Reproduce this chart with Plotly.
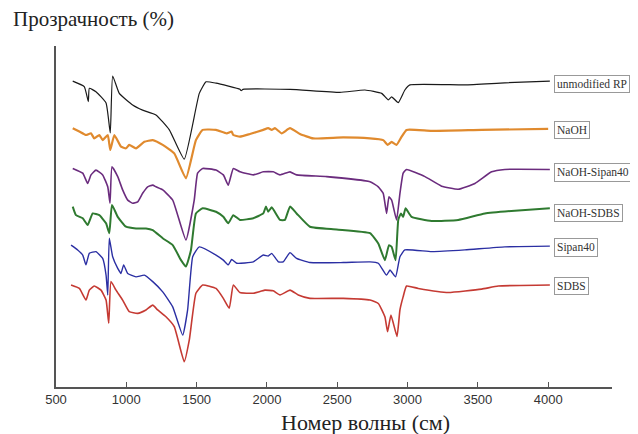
import plotly.graph_objects as go

# Wavenumber (cm^-1) and transmittance (arbitrary, offset)
rp_x = [619, 701, 730, 737, 784, 856, 886, 903, 950, 1045, 1116, 1211, 1306, 1412, 1519, 1567, 1638,
        1808, 1817, 1830, 2164, 2519, 2697, 2816, 2863, 2887, 2934, 2981, 3017, 3408, 3692, 4012]
rp_y = [89.7, 88.1, 83.7, 87.6, 86.6, 83.3, 74.5, 91.2, 86.1, 82.7, 81.2, 79.8, 75.4, 66.8, 86.1, 89.5, 89.1,
        87.3, 86.9, 87.3, 87.3, 86.4, 87.1, 86.1, 84.2, 85.1, 83.4, 87.1, 88.6, 88.6, 89.2, 89.7]

naoh_x = [619, 666, 713, 749, 772, 808, 832, 868, 886, 915, 962, 998, 1021, 1069, 1128, 1188, 1259, 1341,
          1424, 1495, 1543, 1638, 1714, 1749, 1761, 1808, 1879, 1974, 2009, 2034, 2057, 2105, 2164, 2235,
          2329, 2543, 2733, 2827, 2858, 2887, 2922, 2958, 2993, 3171, 3527, 4000]
naoh_y = [75.9, 74.9, 73.9, 74.4, 72.9, 73.9, 72.4, 73.9, 69.5, 73.9, 70.5, 70.0, 71.0, 70.0, 71.9, 72.4, 71.0, 68.5,
          61.2, 72.4, 75.4, 75.4, 74.4, 74.9, 73.9, 73.4, 74.2, 75.4, 75.9, 75.4, 75.9, 74.4, 75.9, 74.2,
          72.9, 73.2, 72.9, 72.4, 71.0, 71.9, 71.0, 73.4, 75.4, 75.1, 75.4, 75.7]

nsp_x = [619, 690, 725, 749, 784, 832, 868, 884, 898, 939, 974, 1010, 1045, 1081, 1116, 1152, 1188, 1211,
         1259, 1330, 1424, 1483, 1507, 1543, 1638, 1690, 1725, 1761, 1808, 1903, 1974, 2045, 2093, 2164,
         2211, 2425, 2733, 2792, 2827, 2851, 2868, 2887, 2922, 2946, 2969, 2993, 3124, 3242, 3360, 3479,
         3598, 3692, 4012]
nsp_y = [64.1, 62.7, 59.7, 62.2, 63.6, 62.2, 58.7, 53.9, 64.6, 61.7, 57.8, 54.8, 53.9, 54.3, 56.8, 58.7, 59.2, 58.7,
         57.8, 54.8, 43.1, 54.8, 62.7, 64.1, 63.6, 62.2, 59.2, 64.1, 63.1, 62.2, 63.1, 63.1, 62.2, 63.1,
         62.2, 61.7, 60.2, 58.7, 56.8, 50.9, 55.8, 54.8, 49.0, 56.8, 62.7, 63.8, 61.7, 58.9, 58.0, 59.7,
         63.1, 63.8, 63.8]

nsd_x = [619, 642, 690, 725, 761, 808, 856, 879, 898, 939, 998, 1069, 1140, 1188, 1259, 1330, 1389, 1424,
         1460, 1495, 1543, 1638, 1690, 1725, 1761, 1808, 1903, 1974, 1993, 2009, 2034, 2093, 2128, 2164,
         2211, 2306, 2496, 2733, 2792, 2839, 2868, 2887, 2915, 2934, 2953, 2969, 2986, 3029, 3171, 3360,
         3550, 3763, 4012]
nsd_y = [52.9, 50.4, 49.5, 47.5, 50.9, 50.4, 48.0, 45.1, 53.4, 49.9, 47.0, 46.5, 46.5, 46.0, 43.6, 41.6, 37.2, 35.3,
         40.2, 50.9, 52.4, 51.4, 49.9, 48.0, 50.4, 49.0, 49.5, 50.9, 52.9, 51.4, 52.7, 49.0, 49.0, 52.9,
         50.9, 47.0, 46.2, 45.1, 42.1, 37.2, 41.6, 41.1, 37.2, 49.0, 50.9, 49.9, 52.4, 49.9, 48.7, 49.0,
         50.9, 51.7, 52.4]

sip_x = [607, 654, 690, 713, 737, 784, 832, 856, 868, 879, 903, 939, 962, 981, 1010, 1069, 1128, 1188,
         1259, 1330, 1401, 1436, 1472, 1519, 1638, 1690, 1725, 1749, 1785, 1903, 1974, 2009, 2034, 2081,
         2116, 2164, 2211, 2306, 2543, 2733, 2792, 2851, 2875, 2915, 2946, 2981, 3171, 3408, 3692, 4012]
sip_y = [41.6, 40.2, 38.7, 35.8, 39.2, 39.7, 37.7, 32.8, 27.0, 43.6, 38.2, 34.8, 33.3, 35.8, 33.3, 32.3, 32.8, 30.9,
         27.9, 23.5, 15.2, 22.6, 38.2, 41.1, 38.7, 37.2, 35.8, 37.4, 36.3, 36.7, 38.7, 38.4, 39.2, 36.7,
         36.7, 39.4, 37.7, 36.5, 36.5, 36.7, 36.3, 32.8, 34.3, 32.3, 38.2, 40.2, 39.7, 40.2, 41.1, 41.3]

sdbs_x = [607, 666, 713, 737, 772, 820, 856, 875, 891, 927, 974, 1021, 1081, 1140, 1188, 1223, 1282, 1341,
          1412, 1448, 1495, 1543, 1638, 1690, 1732, 1761, 1808, 1903, 1986, 2045, 2093, 2164, 2223, 2306,
          2543, 2733, 2792, 2839, 2858, 2882, 2925, 2946, 2969, 2993, 3076, 3289, 3527, 3645, 4012]
sdbs_y = [29.9, 28.9, 25.5, 28.4, 29.6, 28.4, 25.5, 18.7, 30.9, 28.4, 25.5, 22.1, 21.6, 22.6, 24.0, 22.6, 20.6, 17.7,
          7.4, 13.8, 27.5, 29.9, 28.9, 26.0, 23.1, 29.9, 27.7, 27.5, 28.4, 28.2, 27.0, 28.4, 27.0, 26.0,
          26.0, 25.5, 24.5, 20.6, 16.2, 21.1, 14.8, 22.6, 26.5, 29.6, 28.9, 27.7, 28.7, 29.6, 29.9]

names = ["unmodified RP", "NaOH", "NaOH-Sipan40", "NaOH-SDBS", "Sipan40", "SDBS"]
xs = [rp_x, naoh_x, nsp_x, nsd_x, sip_x, sdbs_x]
ys = [rp_y, naoh_y, nsp_y, nsd_y, sip_y, sdbs_y]
label_y = [88.9, 75.4, 63.0, 51.0, 40.8, 29.6]
tick_vals = [500, 1000, 1500, 2000, 2500, 3000, 3500, 4000]
tick_text = ["500", "1000", "1500", "2000", "2500", "3000", "3500", "4000"]

colors = ["#1a1a1a", "#e08a2e", "#6b2c7e", "#2f7a30", "#2b2fa3", "#c53a33"]
widths = [1.2, 2.2, 1.6, 2.0, 1.4, 1.6]

fig = go.Figure()
for n, x, y, c, w in zip(names, xs, ys, colors, widths):
    fig.add_trace(go.Scatter(x=x, y=y, mode="lines", name=n,
                             line=dict(color=c, width=w, shape="spline", smoothing=0.4)))

for n, ly in zip(names, label_y):
    fig.add_annotation(x=4038, y=ly, xref="x", yref="y", text=n, showarrow=False,
                       xanchor="left", yanchor="middle",
                       font=dict(family="Liberation Serif", size=11.5, color="#333"),
                       bordercolor="#999", borderwidth=1, borderpad=2, bgcolor="white")

fig.add_annotation(x=-0.081, y=1.078, xref="paper", yref="paper", text="Прозрачность (%)",
                   showarrow=False, xanchor="left", yanchor="middle",
                   font=dict(family="Liberation Serif", size=21, color="#222"))
fig.add_annotation(x=0.5575, y=-0.103, xref="paper", yref="paper", text="Номер волны (см)",
                   showarrow=False, xanchor="center", yanchor="middle",
                   font=dict(family="Liberation Serif", size=22, color="#222"))

# page body has an 8px margin, so the figure is 8px smaller and margins shifted
fig.update_layout(
    width=630, height=426, showlegend=False,
    margin=dict(l=48, r=26, t=38, b=47),
    plot_bgcolor="white", paper_bgcolor="white",
    xaxis=dict(range=[500, 4454], tickvals=tick_vals, ticktext=tick_text,
               ticks="inside", ticklen=5, tickcolor="#555", tickwidth=1.2,
               showline=True, linecolor="#555", linewidth=1.5, showgrid=False, zeroline=False,
               tickfont=dict(family="Liberation Sans", size=13, color="#333")),
    yaxis=dict(range=[0, 100], showticklabels=False, ticks="", showline=True,
               linecolor="#555", linewidth=1.5, showgrid=False, zeroline=False),
)

fig.write_html("out.html")
